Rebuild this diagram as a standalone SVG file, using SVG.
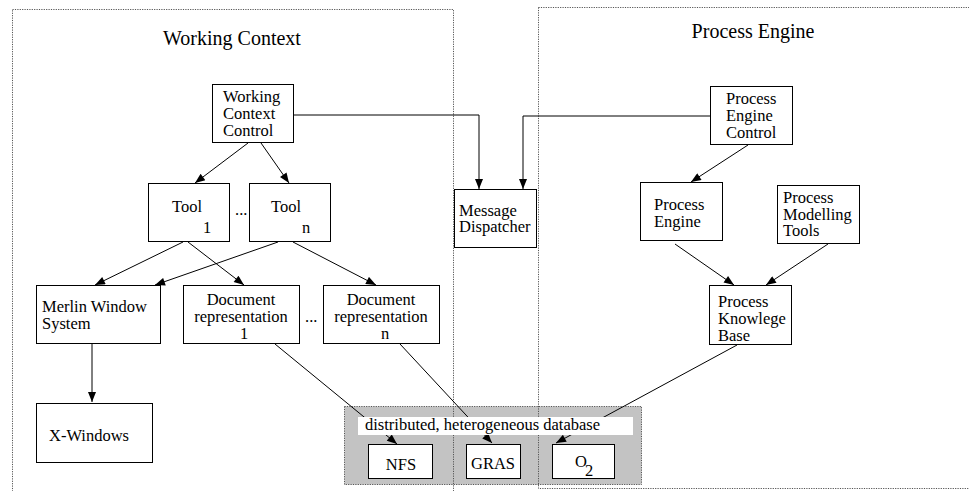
<svg xmlns="http://www.w3.org/2000/svg" width="969" height="491" viewBox="0 0 969 491" font-family="'Liberation Serif', 'Times New Roman', Times, serif">
<defs>
<style>
text{font-family:'Liberation Serif','Times New Roman',Times,serif;font-size:16.5px;fill:#000}
.title{font-size:20px}
.lbl{font-size:16.5px}
.box{fill:#fff;stroke:#000;stroke-width:1}
.region{fill:none;stroke:#555;stroke-width:1;stroke-dasharray:1.2 1.2}
.conn{fill:none;stroke:#000;stroke-width:1;marker-end:url(#arr)}
.c{text-anchor:middle}
</style>
<marker id="arr" viewBox="0 0 10 8" refX="10" refY="4" markerWidth="11" markerHeight="8" markerUnits="userSpaceOnUse" orient="auto">
<path d="M0,0 L10,4 L0,8 z" fill="#000"/>
</marker>
</defs>
<rect width="969" height="491" fill="#fff"/>

<g id="region-working-context">
<rect class="region" x="12.5" y="9.5" width="441" height="490"/>
<text class="title" x="232" y="45" text-anchor="middle">Working Context</text>
</g>
<g id="region-process-engine">
<rect class="region" x="538.5" y="7.5" width="440" height="481"/>
<text class="title" x="753" y="38" text-anchor="middle">Process Engine</text>
</g>

<g id="database-bg">
<rect x="344.5" y="406.5" width="297" height="78" fill="#c3c3c3" stroke="#555" stroke-dasharray="1.2 1.2"/>
<line class="region" x1="453.5" y1="406" x2="453.5" y2="485"/>
<line class="region" x1="538.5" y1="406" x2="538.5" y2="485"/>
</g>

<g id="connectors">
<polyline class="conn" points="294,115 479,115 479,189"/>
<polyline class="conn" points="710,116 523,116 523,189"/>
<line class="conn" x1="248" y1="143" x2="195" y2="183"/>
<line class="conn" x1="261" y1="143" x2="289" y2="183"/>
<line class="conn" x1="183" y1="242" x2="95" y2="285"/>
<line class="conn" x1="188" y1="242" x2="244" y2="285"/>
<line class="conn" x1="278" y1="242" x2="155" y2="285"/>
<line class="conn" x1="293" y1="242" x2="376" y2="285"/>
<line class="conn" x1="92" y1="344" x2="92" y2="402"/>
<line class="conn" x1="275" y1="344" x2="397" y2="444"/>
<line class="conn" x1="400" y1="344" x2="492" y2="443"/>
<line class="conn" x1="748" y1="145" x2="691" y2="182"/>
<line class="conn" x1="675" y1="244" x2="734" y2="285"/>
<line class="conn" x1="828" y1="244" x2="766" y2="285"/>
<line class="conn" x1="737" y1="345" x2="556" y2="443"/>
</g>

<g id="database-label">
<rect x="358" y="417" width="275" height="18" fill="#fff"/>
<text class="lbl" x="365" y="430">distributed, heterogeneous database</text>
</g>

<g id="wcc">
<rect class="box" x="212.5" y="84.5" width="81" height="58"/>
<text x="223" y="102">Working</text>
<text x="223" y="119">Context</text>
<text x="223" y="136">Control</text>
</g>
<g id="tool1">
<rect class="box" x="148.5" y="183.5" width="81" height="58"/>
<text x="172" y="212">Tool</text>
<text x="203" y="233">1</text>
</g>
<text x="235" y="215">...</text>
<g id="tooln">
<rect class="box" x="249.5" y="183.5" width="81" height="58"/>
<text x="271" y="212">Tool</text>
<text x="302" y="233">n</text>
</g>
<g id="message-dispatcher">
<rect class="box" x="454.5" y="189.5" width="82" height="58"/>
<text x="459" y="216">Message</text>
<text x="459" y="232">Dispatcher</text>
</g>
<g id="merlin">
<rect class="box" x="36.5" y="285.5" width="124" height="58"/>
<text x="42" y="312">Merlin Window</text>
<text x="42" y="329">System</text>
</g>
<g id="docrep1">
<rect class="box" x="183.5" y="285.5" width="116" height="58"/>
<text class="c" x="241" y="305">Document</text>
<text class="c" x="241" y="322">representation</text>
<text class="c" x="244" y="339">1</text>
</g>
<text x="305" y="322">...</text>
<g id="docrepn">
<rect class="box" x="323.5" y="285.5" width="116" height="58"/>
<text class="c" x="381" y="305">Document</text>
<text class="c" x="381" y="322">representation</text>
<text class="c" x="385" y="339">n</text>
</g>
<g id="xwindows">
<rect class="box" x="36.5" y="403.5" width="116" height="59"/>
<text x="49" y="441">X-Windows</text>
</g>
<g id="pec">
<rect class="box" x="710.5" y="86.5" width="82" height="58"/>
<text x="726" y="104">Process</text>
<text x="726" y="121">Engine</text>
<text x="726" y="138">Control</text>
</g>
<g id="process-engine">
<rect class="box" x="640.5" y="182.5" width="82" height="58"/>
<text x="654" y="210">Process</text>
<text x="654" y="227">Engine</text>
</g>
<g id="pmt">
<rect class="box" x="777.5" y="185.5" width="82" height="58"/>
<text x="783" y="203">Process</text>
<text x="783" y="220">Modelling</text>
<text x="783" y="236">Tools</text>
</g>
<g id="pkb">
<rect class="box" x="709.5" y="285.5" width="82" height="59"/>
<text x="718" y="307">Process</text>
<text x="718" y="324">Knowlege</text>
<text x="718" y="341">Base</text>
</g>
<g id="nfs">
<rect class="box" x="368.5" y="444.5" width="64" height="34"/>
<text class="c" x="401" y="470">NFS</text>
</g>
<g id="gras">
<rect class="box" x="466.5" y="444.5" width="54" height="34"/>
<text class="c" x="493" y="469">GRAS</text>
</g>
<g id="o2">
<rect class="box" x="552.5" y="444.5" width="62" height="34"/>
<text x="575" y="467">O</text>
<text x="585" y="476">2</text>
</g>
</svg>
